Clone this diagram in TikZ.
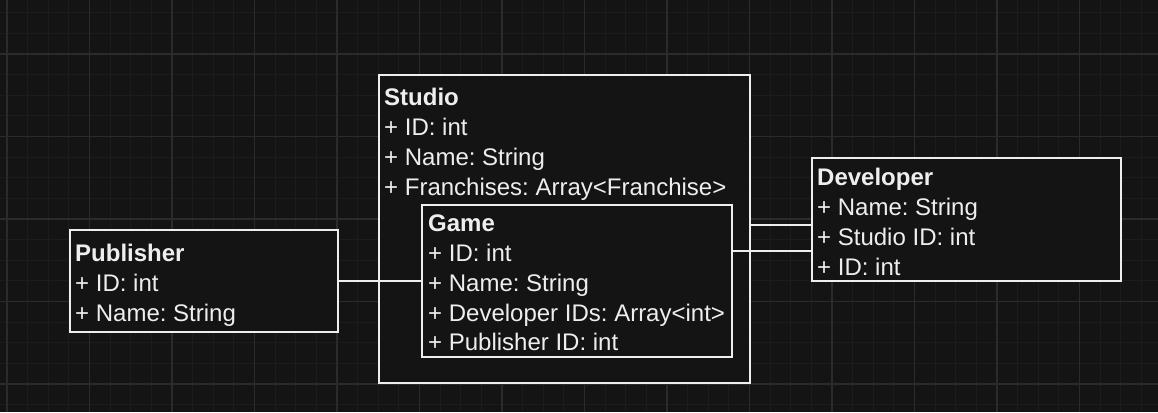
\documentclass[tikz,border=0pt]{standalone}
\usepackage{fontspec}
\setmainfont{Liberation Sans}
\frenchspacing
\definecolor{bg}{HTML}{141414}
\definecolor{gminor}{HTML}{1C1C1C}
\definecolor{gmajor}{HTML}{2B2B2B}
\definecolor{fg}{HTML}{EEEEEE}
\tikzset{
  minorline/.style={draw=gminor, line width=1pt},
  majorline/.style={draw=gmajor, line width=1.2pt},
  umlbox/.style={draw=fg, fill=bg, line width=2pt, rectangle, inner sep=0pt, outer sep=0pt, anchor=north west},
  txt/.style={anchor=base west, inner sep=0pt, text=fg, font=\fontsize{24}{30}\selectfont},
  conn/.style={draw=fg, line width=2pt}
}
\begin{document}
\begin{tikzpicture}[x=1pt, y=-1pt]
\useasboundingbox (0,0) rectangle (1158,412);
\fill[bg] (0,0) rectangle (1158,412);
\begin{scope}
\clip (0,0) rectangle (1158,412);
\foreach \i in {-1,...,56} \draw[minorline] ({7+20.625*\i},0) -- ({7+20.625*\i},412);
\foreach \j in {-3,...,18} \draw[minorline] (0,{54+20.625*\j}) -- (1158,{54+20.625*\j});
\foreach \i in {0,...,13} \draw[majorline] ({7+82.5*\i},0) -- ({7+82.5*\i},412);
\foreach \j in {-1,...,4} \draw[majorline] (0,{54+82.5*\j}) -- (1158,{54+82.5*\j});
\end{scope}

\node[umlbox, minimum width=371pt, minimum height=308pt] (studio) at (379,75) {};
\node[umlbox, minimum width=268pt, minimum height=102pt] (pub) at (70,230) {};
\node[umlbox, minimum width=309pt, minimum height=123pt] (dev) at (812,158) {};
\node[umlbox, minimum width=310pt, minimum height=152pt] (game) at (422,205) {};

\draw[conn] (pub.east) -- (pub.east -| game.west);
\draw[conn] (studio.east |- 0,225) -- (dev.west |- 0,225);
\draw[conn] (game.east |- 0,251) -- (dev.west |- 0,251);

\node[txt] (s0) at (384,105.5) {\textbf{Studio}};
\node[txt] (s1) at (384,135.5) {+ ID: int};
\node[txt] (s2) at (384,165.5) {+ Name: String};
\node[txt] (s3) at (384,195.5) {+ Franchises: Array<Franchise>};

\node[txt] (g0) at (428,231.5) {\textbf{Game}};
\node[txt] (g1) at (428,261.5) {+ ID: int};
\node[txt] (g2) at (428,291.5) {+ Name: String};
\node[txt] (g3) at (428,321.5) {+ Developer IDs: Array<int>};
\node[txt] (g4) at (428,350.5) {+ Publisher ID: int};

\node[txt] (p0) at (75,261.5) {\textbf{Publisher}};
\node[txt] (p1) at (75,291.5) {+ ID: int};
\node[txt] (p2) at (75,321.5) {+ Name: String};

\node[txt] (d0) at (817,185.5) {\textbf{Developer}};
\node[txt] (d1) at (817,215.5) {+ Name: String};
\node[txt] (d2) at (817,245.5) {+ Studio ID: int};
\node[txt] (d3) at (817,275.5) {+ ID: int};
\end{tikzpicture}
\end{document}
